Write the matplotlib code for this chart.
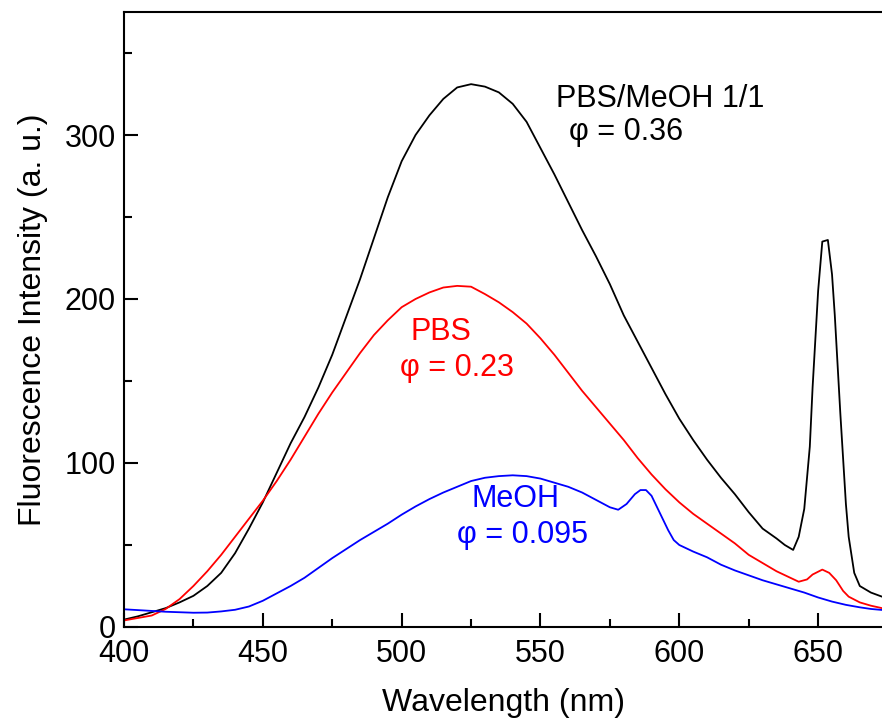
import matplotlib.pyplot as plt
from matplotlib.ticker import MultipleLocator

plt.rcParams['font.family'] = ['Liberation Sans', 'DejaVu Sans']

# -----------------------------
# Data
# -----------------------------
wl_mix = [400, 405, 410, 415, 420, 425, 430, 435, 440, 445, 450, 455, 460, 465, 470, 475,
          480, 485, 490, 495, 500, 505, 510, 515, 520, 525, 530, 535, 540, 545, 550, 555,
          560, 565, 570, 575, 580, 585, 590, 595, 600, 605, 610, 615, 620, 625, 630, 635,
          638, 641, 643, 645, 647, 648, 650, 651.5, 653.5, 655, 656, 658, 660, 661, 663,
          665, 669, 673]
int_mix = [4.5, 6.5, 9, 11.5, 15, 19, 25, 33, 45, 60, 76, 94, 112, 128, 146, 166,
           189, 212, 237, 262, 284, 300, 312, 322, 329, 331, 329.5, 326, 319, 308, 292, 276,
           259, 242, 226, 209, 190, 174, 158, 142, 127, 114, 102, 91, 81, 70, 60, 54,
           50, 47, 55, 72, 110, 146, 205, 235, 236, 215, 190, 130, 75, 55, 33,
           25, 21, 18.5]

wl_pbs = [400, 405, 410, 415, 420, 425, 430, 435, 440, 445, 450, 455, 460, 465, 470, 475,
          480, 485, 490, 495, 500, 505, 510, 515, 520, 525, 530, 535, 540, 545, 550, 555,
          560, 565, 570, 575, 580, 585, 590, 595, 600, 605, 610, 615, 620, 625, 630, 635,
          640, 643, 646, 648, 651.5, 654, 656.5, 659, 661, 665, 669, 673]
int_pbs = [4, 5.5, 7, 11, 17, 25, 34, 44, 55, 66, 77, 89, 102, 116, 130, 143,
           155, 167, 178, 187, 195, 200, 204, 207, 208, 207.5, 203, 198, 192, 185, 176, 166,
           155, 144, 134, 124, 114, 103, 93, 84, 76, 69, 63, 57, 51, 44, 39, 34,
           30, 27.6, 29, 32, 35, 33, 28.5, 22, 18.5, 15, 13, 11.5]

wl_meoh = [400, 405, 410, 415, 420, 425, 430, 435, 440, 445, 450, 455, 460, 465, 470, 475,
           480, 485, 490, 495, 500, 505, 510, 515, 520, 525, 530, 535, 540, 545, 550, 555,
           560, 565, 570, 575, 578, 581, 584, 586, 588, 590, 592, 594, 596, 598, 600, 605,
           610, 615, 620, 625, 630, 635, 640, 645, 650, 655, 660, 665, 669, 673]
int_meoh = [10.8, 10.3, 9.8, 9.3, 9, 8.7, 8.8, 9.5, 10.5, 12.5, 16, 20.5, 25, 30, 36, 42,
            47.5, 53, 58, 63, 68.5, 73.5, 78, 82, 85.5, 89, 91, 92, 92.5, 92, 90.5, 88,
            85.5, 82, 77.5, 73, 71.5, 75, 81, 83.5, 83.5, 80, 73, 66, 59, 53, 50, 46,
            42.5, 38, 34.5, 31.5, 28.5, 26, 23.5, 21, 18, 15.5, 13.5, 12, 11, 10.4]

# -----------------------------
# Plot
# -----------------------------
fig = plt.figure(figsize=(8.82, 7.25), dpi=100)
ax = fig.add_axes([124 / 882, 98 / 725, 1 - 124 / 882, 615 / 725])

ax.plot(wl_mix, int_mix, color='black', lw=1.3)
ax.plot(wl_pbs, int_pbs, color='#ff0000', lw=1.3)
ax.plot(wl_meoh, int_meoh, color='#0000ff', lw=1.3)

ax.set_xlim(400, 673)
ax.set_ylim(0, 375)
ax.xaxis.set_major_locator(MultipleLocator(50))
ax.xaxis.set_minor_locator(MultipleLocator(25))
ax.yaxis.set_major_locator(MultipleLocator(100))
ax.yaxis.set_minor_locator(MultipleLocator(50))
ax.tick_params(which='both', direction='in', width=1.5, labelsize=22)
ax.tick_params(axis='x', pad=9)
ax.tick_params(axis='y', pad=6)
ax.tick_params(which='major', length=10)
ax.tick_params(which='minor', length=6)

for s in ['left', 'bottom', 'top']:
    ax.spines[s].set_linewidth(1.5)
ax.spines['right'].set_visible(False)

ax.set_xlabel('Wavelength (nm)', fontsize=23, labelpad=13)
ax.set_ylabel('Fluorescence Intensity (a. u.)', fontsize=23, labelpad=12)

ax.text(593, 322, 'PBS/MeOH 1/1', fontsize=22, color='black', ha='center', va='center')
ax.text(581, 302, 'φ = 0.36', fontsize=22, color='black', ha='center', va='center')
ax.text(514, 180, 'PBS', fontsize=22, color='#ff0000', ha='center', va='center')
ax.text(520, 158, 'φ = 0.23', fontsize=22, color='#ff0000', ha='center', va='center')
ax.text(541, 78, 'MeOH', fontsize=22, color='#0000ff', ha='center', va='center')
ax.text(543.5, 56, 'φ = 0.095', fontsize=22, color='#0000ff', ha='center', va='center')

plt.savefig('out.png', dpi=100)
